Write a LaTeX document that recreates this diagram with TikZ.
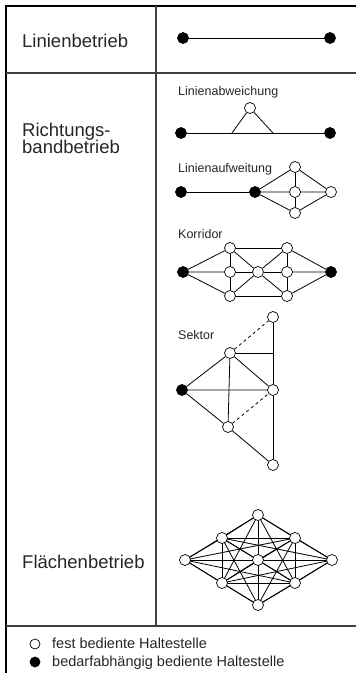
\documentclass[tikz,border=0pt]{standalone}
\usepackage{fontspec}
\setmainfont{Liberation Sans}
\usetikzlibrary{backgrounds}
\begin{document}
\begin{tikzpicture}[x=1pt,y=-1pt,
  hw/.style={circle,draw=black,fill=white,line width=0.7pt,minimum size=11pt,inner sep=0pt},
  hb/.style={circle,draw=black,fill=black,line width=0.7pt,minimum size=11pt,inner sep=0pt},
  edge/.style={line width=0.8pt,black},
  dedge/.style={line width=0.8pt,black,dash pattern=on 3pt off 3pt},
  frameline/.style={line width=1.4pt,black!75},
  biglabel/.style={anchor=base west,font=\fontsize{18.5}{20}\selectfont,text=black!85,inner sep=0pt},
  smalllabel/.style={anchor=base west,font=\fontsize{12.5}{14}\selectfont,text=black!85,inner sep=0pt},
  leglabel/.style={anchor=base west,font=\fontsize{14.5}{16}\selectfont,text=black!85,inner sep=0pt}
]
\useasboundingbox (0,0) rectangle (356,673);
% frame
\draw[line width=1.4pt,black] (356,6) -- (6,6) -- (6,673);
\draw[frameline] (6,73) -- (356,73);
\draw[frameline] (6,626) -- (356,626);
\draw[frameline] (156,6) -- (156,626);

% row labels
\node[biglabel] (t1) at (22,47) {Linienbetrieb};
\node[biglabel] (t2) at (22,136) {Richtungs-};
\node[biglabel] (t3) at (22,153) {bandbetrieb};
\node[biglabel] (t4) at (22,568) {Flächenbetrieb};

% Linienbetrieb
\node[hb] (lb1) at (183,38) {};
\node[hb] (lb2) at (330,38) {};
\draw[edge] (lb1) -- (lb2);

% Linienabweichung
\node[smalllabel] (la) at (178,95) {Linienabweichung};
\node[hb] (a1) at (181,133) {};
\node[hb] (a2) at (330,133) {};
\node[hw] (a3) at (250,108) {};
\coordinate (ab1) at (232,133);
\coordinate (ab2) at (273,133);
\draw[edge] (a1) -- (a2);
\draw[edge] (ab1) -- (a3) -- (ab2);

% Linienaufweitung
\node[smalllabel] (lw) at (178,172) {Linienaufweitung};
\node[hb] (w1) at (181,192) {};
\node[hb] (w2) at (255,192) {};
\node[hw] (w3) at (295,167) {};
\node[hw] (w4) at (295,192) {};
\node[hw] (w5) at (331,192) {};
\node[hw] (w6) at (295,213) {};
\draw[edge] (w1) -- (w2);
\draw[edge] (w2) -- (w3) (w2) -- (w4) (w2) -- (w6);
\draw[edge] (w3) -- (w4) -- (w6);
\draw[edge] (w3) -- (w5) (w4) -- (w5) (w6) -- (w5);

% Korridor
\node[smalllabel] (lk) at (178,238) {Korridor};
\node[hb] (k0) at (183,272) {};
\node[hw] (k1) at (230,248) {};
\node[hw] (k2) at (230,272) {};
\node[hw] (k3) at (230,296) {};
\node[hw] (kc) at (258,272) {};
\node[hw] (k4) at (287,248) {};
\node[hw] (k5) at (287,272) {};
\node[hw] (k6) at (287,296) {};
\node[hb] (k7) at (331,272) {};
\draw[edge] (k0) -- (k1) (k0) -- (k2) (k0) -- (k3);
\draw[edge] (k1) -- (k2) -- (k3);
\draw[edge] (k4) -- (k5) -- (k6);
\draw[edge] (k1) -- (k4) (k3) -- (k6);
\draw[edge] (k2) -- (kc) -- (k5);
\draw[edge] (k1) -- (kc) -- (k6) (k3) -- (kc) -- (k4);
\draw[edge] (k4) -- (k7) (k5) -- (k7) (k6) -- (k7);

% Sektor
\node[smalllabel] (ls) at (178,339) {Sektor};
\node[hw] (s1) at (273,317) {};
\node[hw] (s2) at (230,353) {};
\node[hb] (s0) at (182,390) {};
\node[hw] (s3) at (273,390) {};
\node[hw] (s4) at (228,427) {};
\node[hw] (s5) at (273,465) {};
\coordinate (sh) at (273,353);
\draw[edge] (s0) -- (s2) (s0) -- (s3) (s0) -- (s4);
\draw[edge] (s2) -- (s4);
\draw[edge] (s2) -- (s3);
\draw[edge] (s2) -- (sh);
\draw[edge] (s1) -- (s3) -- (s5);
\draw[edge] (s4) -- (s5);
\draw[dedge] (s2) -- (s1);
\draw[dedge] (s4) -- (s3);

% Flaechenbetrieb
\node[hw] (f1) at (258,515) {};
\node[hw] (f2) at (222,538) {};
\node[hw] (f3) at (295,538) {};
\node[hw] (f4) at (185,560) {};
\node[hw] (f5) at (258,560) {};
\node[hw] (f6) at (332,560) {};
\node[hw] (f7) at (222,583) {};
\node[hw] (f8) at (295,583) {};
\node[hw] (f9) at (258,605) {};
\begin{scope}[on background layer]
\foreach \i in {1,...,8}{
  \pgfmathtruncatemacro{\nx}{\i+1}
  \foreach \j in {\nx,...,9}{
    \draw[edge] (f\i.center) -- (f\j.center);
  }
}
\end{scope}

% legend
\node[hw,minimum size=10pt] (lg1) at (35,644) {};
\node[hb,minimum size=10pt] (lg2) at (35,662) {};
\node[leglabel] (lt1) at (52,648) {fest bediente Haltestelle};
\node[leglabel] (lt2) at (52,666) {bedarfabhängig bediente Haltestelle};
\end{tikzpicture}
\end{document}
